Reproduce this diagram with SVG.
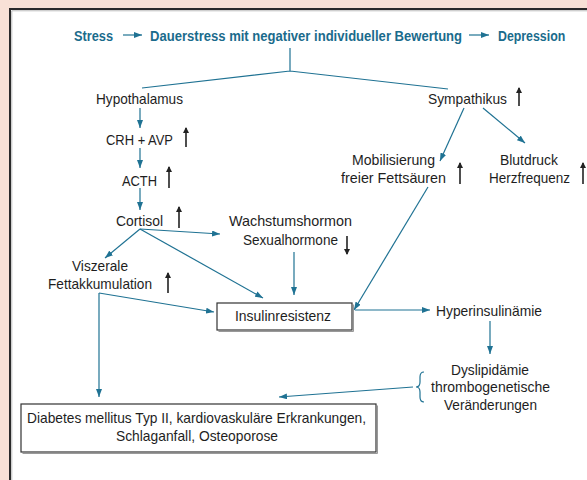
<svg xmlns="http://www.w3.org/2000/svg" width="587" height="480" viewBox="0 0 587 480">
<defs>
<style>
.t{font-family:"Liberation Sans",Arial,sans-serif;font-size:14.5px;fill:#1e1e1e}
.h{font-family:"Liberation Sans",Arial,sans-serif;font-size:15.5px;font-weight:bold;fill:#1a6b8c}
.c{stroke:#1f7293;stroke-width:1.2;fill:none}
.ca{stroke:#1f7293;stroke-width:1.2;fill:none;marker-end:url(#ah)}
.up{stroke:#222;stroke-width:1.6;fill:none;marker-end:url(#bh)}
.box{fill:#fff;stroke:#333;stroke-width:1.2}
.sh{fill:none;stroke:#999;stroke-width:1}
</style>
<marker id="ah" viewBox="0 0 8 6" refX="8" refY="3" markerWidth="8" markerHeight="6" markerUnits="userSpaceOnUse" orient="auto"><path d="M0,0 L8,3 L0,6 Z" fill="#1f7293"/></marker>
<marker id="bh" viewBox="0 0 6 7" refX="5" refY="3" markerWidth="6" markerHeight="7" markerUnits="userSpaceOnUse" orient="auto"><path d="M0,0 L6,3 L0,6 Z" fill="#222"/></marker>
</defs>
<rect x="0" y="0" width="587" height="480" fill="#f8e1d6"/>
<rect x="10" y="9" width="600" height="500" fill="#fff" stroke="#2a2a2a" stroke-width="2"/>
<path d="M11.8,490 V10.8 H600" fill="none" stroke="#bbb" stroke-width="1"/>

<g id="title">
<text class="h" transform="translate(74,40.5) scale(0.83,1)" textLength="47" lengthAdjust="spacingAndGlyphs">Stress</text>
<text class="h" transform="translate(150,40.5) scale(0.83,1)" textLength="376" lengthAdjust="spacingAndGlyphs">Dauerstress mit negativer individueller Bewertung</text>
<text class="h" transform="translate(498,40.5) scale(0.83,1)" textLength="81" lengthAdjust="spacingAndGlyphs">Depression</text>
</g>

<g id="connectors">
<line class="ca" x1="123" y1="35" x2="142" y2="35"/>
<line class="ca" x1="469" y1="35" x2="489" y2="35"/>
<path class="c" d="M290,48 V71 M142,88 L290,71 L448,89"/>
<line class="ca" x1="140" y1="108" x2="140" y2="128"/>
<line class="ca" x1="140" y1="148" x2="140" y2="168"/>
<line class="ca" x1="140" y1="188" x2="140" y2="210"/>
<line class="ca" x1="140" y1="229" x2="220" y2="234"/>
<line class="ca" x1="140" y1="229" x2="105" y2="258"/>
<line class="ca" x1="140" y1="229" x2="263" y2="298"/>
<line class="ca" x1="294" y1="252" x2="294" y2="295"/>
<line class="ca" x1="99" y1="293" x2="214" y2="312"/>
<line class="ca" x1="99" y1="293" x2="99" y2="397"/>
<line class="ca" x1="464" y1="108" x2="440" y2="161"/>
<line class="ca" x1="483" y1="108" x2="525" y2="143"/>
<line class="ca" x1="428" y1="187" x2="354" y2="310"/>
<line class="ca" x1="355" y1="310" x2="430" y2="310"/>
<line class="ca" x1="490" y1="321" x2="490" y2="354"/>
<line class="ca" x1="413" y1="387" x2="279" y2="397"/>
<path class="c" d="M424,372 Q420,372 420,377 L420,382 Q420,387 416,387 Q420,387 420,392 L420,397 Q420,402 424,402"/>
</g>

<g id="hypothalamus"><text class="t" x="96" y="103.5" textLength="87" lengthAdjust="spacingAndGlyphs">Hypothalamus</text></g>
<g id="sympathikus"><text class="t" x="428" y="103.5" textLength="79" lengthAdjust="spacingAndGlyphs">Sympathikus</text>
<line class="up" x1="519" y1="106" x2="519" y2="88"/></g>
<g id="crh"><text class="t" x="106" y="145" textLength="67" lengthAdjust="spacingAndGlyphs">CRH + AVP</text>
<line class="up" x1="186" y1="147" x2="186" y2="128"/></g>
<g id="acth"><text class="t" x="122" y="185.5" textLength="35" lengthAdjust="spacingAndGlyphs">ACTH</text>
<line class="up" x1="169" y1="188" x2="169" y2="167"/></g>
<g id="cortisol"><text class="t" x="116" y="226" textLength="47" lengthAdjust="spacingAndGlyphs">Cortisol</text>
<line class="up" x1="179" y1="228" x2="179" y2="207"/></g>
<g id="hormone"><text class="t" x="229" y="226" textLength="123" lengthAdjust="spacingAndGlyphs">Wachstumshormon</text>
<text class="t" x="243" y="245" textLength="95" lengthAdjust="spacingAndGlyphs">Sexualhormone</text>
<line class="up" x1="347" y1="236" x2="347" y2="254"/></g>
<g id="viszerale"><text class="t" x="72" y="271" textLength="56" lengthAdjust="spacingAndGlyphs">Viszerale</text>
<text class="t" x="48" y="289" textLength="104" lengthAdjust="spacingAndGlyphs">Fettakkumulation</text>
<line class="up" x1="168" y1="293" x2="168" y2="273"/></g>
<g id="mobilisierung"><text class="t" x="352" y="165" textLength="83" lengthAdjust="spacingAndGlyphs">Mobilisierung</text>
<text class="t" x="341" y="183" textLength="105" lengthAdjust="spacingAndGlyphs">freier Fettsäuren</text>
<line class="up" x1="460" y1="184" x2="460" y2="163"/></g>
<g id="blutdruck"><text class="t" x="500" y="165" textLength="58" lengthAdjust="spacingAndGlyphs">Blutdruck</text>
<text class="t" x="489" y="183" textLength="81" lengthAdjust="spacingAndGlyphs">Herzfrequenz</text>
<line class="up" x1="583" y1="184" x2="583" y2="163"/></g>
<g id="insulinresistenz"><path class="sh" d="M218.5,331.5 H353.5 V304.5"/>
<rect class="box" x="217" y="303" width="135" height="27"/>
<text class="t" x="235" y="321" textLength="96" lengthAdjust="spacingAndGlyphs">Insulinresistenz</text></g>
<g id="hyperinsulinaemie"><text class="t" x="436" y="316" textLength="106" lengthAdjust="spacingAndGlyphs">Hyperinsulinämie</text></g>
<g id="dyslipidaemie"><text class="t" x="451" y="375" textLength="78" lengthAdjust="spacingAndGlyphs">Dyslipidämie</text>
<text class="t" x="431" y="392" textLength="119" lengthAdjust="spacingAndGlyphs">thrombogenetische</text>
<text class="t" x="444" y="410" textLength="93" lengthAdjust="spacingAndGlyphs">Veränderungen</text></g>
<g id="diabetes"><path class="sh" d="M22.5,453.5 H377.5 V405.5"/>
<rect class="box" x="21" y="404" width="355" height="48"/>
<text class="t" x="27" y="423" textLength="339" lengthAdjust="spacingAndGlyphs">Diabetes mellitus Typ II, kardiovaskuläre Erkrankungen,</text>
<text class="t" x="116" y="441" textLength="162" lengthAdjust="spacingAndGlyphs">Schlaganfall, Osteoporose</text></g>
</svg>
